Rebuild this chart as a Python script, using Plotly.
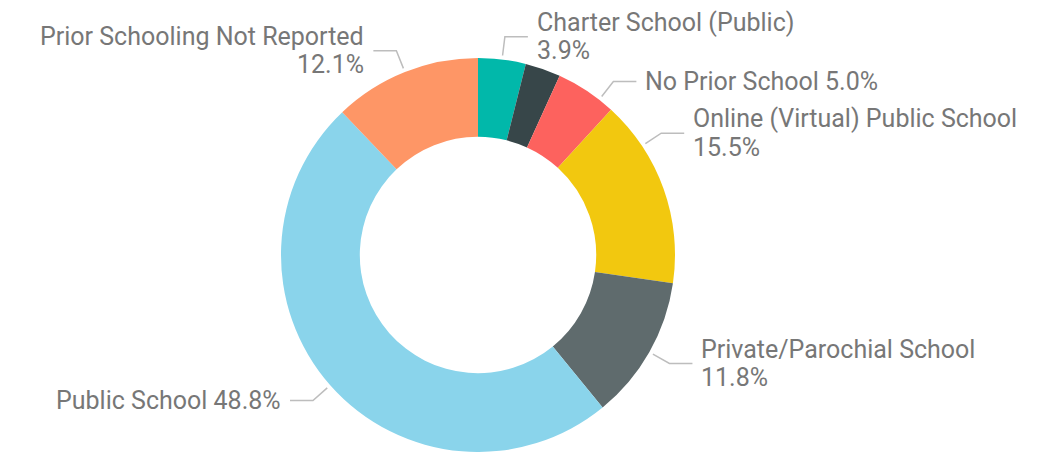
import math
import plotly.graph_objects as go

# ---- data ----
categories = [
    "Charter School (Public)",
    "Home School",
    "No Prior School",
    "Online (Virtual) Public School",
    "Private/Parochial School",
    "Public School",
    "Prior Schooling Not Reported",
]
shares = [3.9, 2.9, 5.0, 15.5, 11.8, 48.8, 12.1]
colors = ["#01B8AA", "#374649", "#FD625E", "#F2C80F", "#5F6B6D", "#8AD4EB", "#FE9666"]

# ---- label layout ----
show_label = [True, False, True, True, True, True, True]
one_line = [False, False, True, False, False, True, False]
angle_shift = [0, 0, 4.5, -14, 0, 0, 0]

W, H = 1056, 452
CX, CY, R = 478, 255, 197
HOLE = 0.6
TEXT_COLOR = "#777777"
LINE_COLOR = "#BDBDBD"
FONT = "Roboto"
FSIZE = 25
LINE_GAP = 28.5


def px(x):
    return x / W


def py(y):
    return 1 - y / H


fig = go.Figure(
    go.Pie(
        labels=categories,
        values=shares,
        marker=dict(colors=colors, line=dict(width=0)),
        hole=HOLE,
        sort=False,
        direction="clockwise",
        rotation=0,
        textinfo="none",
        showlegend=False,
        domain=dict(x=[px(CX - R), px(CX + R)], y=[py(CY + R), py(CY - R)]),
    )
)

total = sum(shares)
cum = 0.0
annotations = []
shapes = []
for i, (name, v) in enumerate(zip(categories, shares)):
    mid = (cum + v / 2) / total * 360.0
    cum += v
    if not show_label[i]:
        continue
    th = math.radians(mid + angle_shift[i])
    s, c = math.sin(th), math.cos(th)
    r1, r2 = R + 4, R + 23
    x1, y1 = CX + r1 * s, CY - r1 * c
    x2, y2 = CX + r2 * s, CY - r2 * c
    side = 1 if s > 0 else -1
    x3 = x2 + side * 23
    shapes.append(
        dict(
            type="path",
            xref="paper",
            yref="paper",
            path=f"M {px(x1)},{py(y1)} L {px(x2)},{py(y2)} L {px(x3)},{py(y2)}",
            line=dict(color=LINE_COLOR, width=1.5),
        )
    )
    pct = f"{v / total * 100:.1f}%"
    lines = [f"{name} {pct}"] if one_line[i] else [name, pct]
    n = len(lines)
    for k, t in enumerate(lines):
        ly = y2 + (k - (n - 1) / 2) * LINE_GAP
        annotations.append(
            dict(
                xref="paper",
                yref="paper",
                x=px(x3 + side * 7),
                y=py(ly),
                text=t,
                showarrow=False,
                xanchor="left" if side > 0 else "right",
                yanchor="middle",
                align="left" if side > 0 else "right",
                font=dict(family=FONT, size=FSIZE, color=TEXT_COLOR),
            )
        )

fig.update_layout(
    width=W,
    height=H,
    margin=dict(l=0, r=0, t=0, b=0),
    paper_bgcolor="white",
    plot_bgcolor="white",
    annotations=annotations,
    shapes=shapes,
)

fig.write_html(
    "out.html",
    config={"displayModeBar": False},
    post_script="document.body.style.margin='0';",
)
